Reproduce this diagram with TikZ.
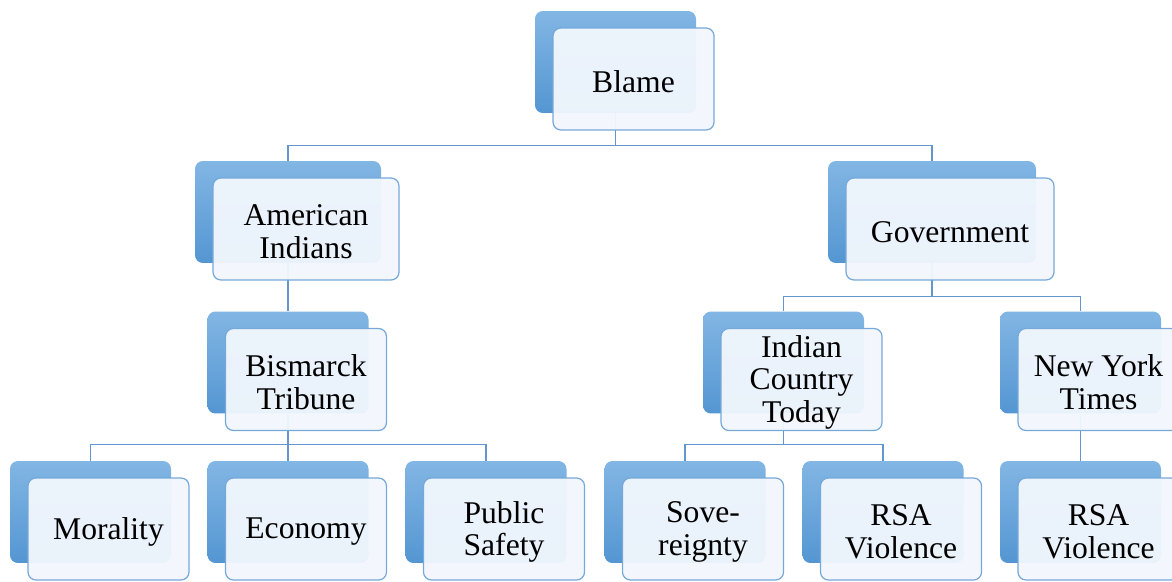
\documentclass[tikz,border=0pt]{standalone}
\usepackage{fontspec}
\setmainfont{Liberation Serif}
\usetikzlibrary{backgrounds}
\definecolor{cardtop}{RGB}{130,182,228}
\definecolor{cardbot}{RGB}{84,150,210}
\definecolor{cardface}{RGB}{242,247,253}
\definecolor{cardline}{RGB}{118,168,218}
\definecolor{linkcol}{RGB}{98,150,204}

\tikzset{
  backbox/.style={rounded corners=4.5pt,top color=cardtop,bottom color=cardbot,
    minimum height=2.04cm,inner sep=0pt},
  frontbox/.style={rounded corners=4.5pt,draw=cardline,line width=0.7pt,fill=cardface,
    fill opacity=0.95,minimum height=2.04cm,inner sep=0pt},
  cardtext/.style={align=center,inner sep=0pt,font=\fontsize{18}{18.4}\selectfont},
  link/.style={draw=linkcol,line width=0.6pt}
}
% back card at (x,y), front card shifted right and down
\newcommand\card[5]{%
  \node[backbox,minimum width=#4*0.02cm] (#1-b) at (#2,#3) {};
  \node[frontbox,minimum width=#4*0.02cm] (#1) at (#2+18,#3+17) {};
  \node[cardtext] (#1-t) at ([yshift=-1.6pt]#1.center) {#5};
}

\begin{document}
\begin{tikzpicture}[x=0.02cm,y=-0.02cm]
\useasboundingbox (0,0) rectangle (1172,581);
\clip (0,0) rectangle (1172,581);

\card{blame}{615.5}{62}{161}{Blame}
\card{ind}{288}{212}{186}{American\\Indians}
\card{gov}{932}{212}{208}{Government}
\card{bis}{288}{362.5}{161}{Bismarck\\Tribune}
\card{ict}{783.5}{362.5}{161}{Indian\\Country\\Today}
\card{nyt}{1080.5}{362.5}{161}{New York\\Times}
\card{mor}{90.5}{512}{161}{Morality}
\card{eco}{288}{512}{161}{Economy}
\card{pub}{486}{512}{161}{Public\\Safety}
\card{sov}{685}{512}{161}{Sove-\\reignty}
\card{rsa}{883}{512}{161}{RSA\\Violence}
\card{rsb}{1080.5}{512}{161}{RSA\\Violence}

\begin{scope}[on background layer]
\draw[link] (blame-b.south) -- ++(0,32) -| (ind-b.north);
\draw[link] (blame-b.south) ++(0,32) -| (gov-b.north);
\draw[link] (ind-b.south) -- (bis-b.north);
\draw[link] (gov-b.south) -- ++(0,33) -| (ict-b.north);
\draw[link] (gov-b.south) ++(0,33) -| (nyt-b.north);
\draw[link] (bis-b.south) -- ++(0,31) -| (mor-b.north);
\draw[link] (bis-b.south) -- (eco-b.north);
\draw[link] (bis-b.south) ++(0,31) -| (pub-b.north);
\draw[link] (ict-b.south) -- ++(0,31) -| (sov-b.north);
\draw[link] (ict-b.south) ++(0,31) -| (rsa-b.north);
\draw[link] (nyt-b.south) -- (rsb-b.north);
\end{scope}
\end{tikzpicture}
\end{document}
